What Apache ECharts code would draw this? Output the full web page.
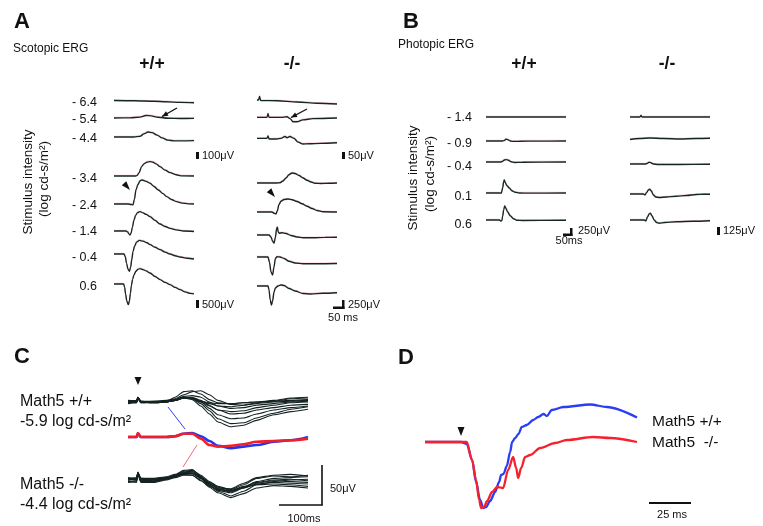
<!DOCTYPE html>
<html><head><meta charset="utf-8">
<script src="https://cdn.jsdelivr.net/npm/echarts@6/dist/echarts.min.js"></script>
<style>html,body{margin:0;padding:0;background:#fff}#c{width:763px;height:526px}</style>
</head><body><div id="c"></div>
<script>
// ================= DATA (time in ms, amplitude in µV) =================
const scotopicIntensities = ['- 6.4','- 5.4','- 4.4','- 3.4','- 2.4','- 1.4','- 0.4','0.6'];
const photopicIntensities = ['- 1.4','- 0.9','- 0.4','0.1','0.6'];

// Panel A, scotopic, Math5 +/+
const scotWT_m64 = [[0,24],[100,20],[200,12],[260,4],[330,-6],[400,-12]];
const scotWT_m54 = [[0,0],[80,2],[130,15],[160,40],[185,35],[220,12],[270,-4],[330,-8],[400,-6]];
const scotWT_m44 = [[0,0],[100,0],[130,10],[150,50],[170,80],[190,70],[215,30],[240,-15],[270,-50],[300,-62],[340,-62],[400,-58]];
const scotWT_m34 = [[0,0],[105,0],[115,20],[125,200],[138,597],[150,780],[165,890],[180,917],[195,880],[210,780],[230,597],[255,380],[280,213],[310,80],[340,10],[400,0]];
const scotWT_m24 = [[0,0],[70,0],[85,-30],[95,-60],[102,300],[110,900],[120,1250],[130,1480],[140,1536],[160,1450],[180,1325],[200,1120],[222,896],[245,660],[263,470],[290,270],[313,150],[340,60],[370,10],[400,0]];
const scotWT_m14 = [[0,0],[60,0],[68,-60],[75,-200],[80,-256],[86,-120],[92,250],[100,700],[108,1000],[118,1180],[130,1237],[145,1160],[160,1060],[180,917],[205,680],[230,448],[255,290],[280,171],[310,70],[347,0],[400,-30]];
const scotWT_m04 = [[0,0],[50,0],[56,-150],[63,-600],[70,-980],[77,-1109],[83,-850],[89,-350],[95,150],[103,500],[113,760],[127,870],[145,820],[165,720],[180,597],[205,430],[230,277],[255,120],[280,0],[305,-110],[330,-192],[365,-270],[400,-320]];
const scotWT_p06 = [[0,0],[48,0],[53,-200],[58,-650],[64,-1100],[72,-1323],[77,-1100],[82,-600],[87,-100],[93,300],[100,580],[110,820],[120,940],[130,981],[145,920],[160,840],[180,704],[205,480],[230,277],[255,100],[280,-43],[305,-220],[330,-363],[355,-500],[380,-600],[400,-630]];

// Panel A, scotopic, Math5 -/-
const scotKO_m64 = [[0,16],[8,16],[13,45],[18,12],[100,10],[200,0],[300,-10],[400,-16]];
const scotKO_m54 = [[0,5],[50,5],[55,35],[60,5],[120,5],[150,10],[165,-5],[180,-30],[200,-30],[230,-15],[280,-5],[400,0]];
const scotKO_m44 = [[0,5],[50,5],[55,25],[60,0],[100,0],[120,5],[140,20],[150,10],[165,20],[185,5],[205,-25],[230,-40],[260,-38],[320,-35],[400,-30]];
const scotKO_m34 = [[0,0],[100,0],[115,10],[130,80],[145,200],[160,330],[175,400],[190,380],[210,300],[230,200],[250,110],[270,40],[290,-10],[320,-20],[360,-10],[400,0]];
const scotKO_m24 = [[0,0],[75,0],[85,-50],[95,-80],[102,50],[110,300],[120,430],[135,500],[155,520],[175,490],[200,420],[225,330],[250,230],[275,140],[300,60],[330,10],[400,0]];
const scotKO_m14 = [[0,0],[60,0],[70,-80],[78,-250],[85,-330],[92,-100],[98,250],[102,310],[106,120],[112,70],[125,90],[145,60],[170,-20],[200,-80],[230,-110],[280,-110],[340,-95],[400,-90]];
const scotKO_m04 = [[0,0],[55,0],[62,-200],[70,-600],[78,-720],[85,-400],[92,-60],[100,10],[115,0],[135,-60],[160,-170],[190,-240],[230,-270],[300,-270],[400,-260]];
const scotKO_p06 = [[0,0],[55,0],[60,-150],[66,-550],[72,-760],[78,-600],[85,-250],[92,-80],[105,0],[120,40],[135,20],[160,-100],[190,-200],[230,-300],[270,-320],[330,-290],[400,-270]];

// Panel B, photopic, Math5 +/+
const photWT_m14 = [[0,0],[120,0],[240,0],[360,0],[480,0]];
const photWT_m09 = [[0,0],[100,0],[110,20],[120,70],[130,55],[145,0],[160,-15],[200,-10],[300,-5],[480,0]];
const photWT_m04 = [[0,0],[90,0],[100,30],[110,80],[120,95],[135,70],[150,10],[170,-20],[220,-10],[480,0]];
const photWT_p01 = [[0,0],[85,0],[92,-10],[100,200],[106,450],[110,520],[115,420],[125,300],[140,200],[155,90],[175,30],[200,0],[260,-5],[480,0]];
const photWT_p06 = [[0,0],[80,0],[88,-40],[95,-30],[100,150],[106,400],[112,560],[118,480],[130,320],[145,170],[165,50],[185,-10],[220,-20],[480,-10]];

// Panel B, photopic, Math5 -/-
const photKO_m14 = [[0,0],[60,0],[66,30],[72,0],[480,0]];
const photKO_m09 = [[0,-10],[60,10],[120,20],[200,10],[300,0],[400,10],[480,15]];
const photKO_m04 = [[0,0],[95,0],[105,15],[115,35],[125,25],[140,0],[170,-10],[300,-10],[480,-5]];
const photKO_p01 = [[0,0],[80,0],[90,-20],[100,30],[110,80],[118,95],[128,60],[140,-20],[155,-60],[175,-70],[220,-60],[280,-45],[340,-30],[400,-10],[440,-5],[480,-5]];
const photKO_p06 = [[0,0],[85,0],[95,-20],[105,60],[115,120],[122,135],[132,80],[145,0],[160,-50],[175,-65],[210,-50],[280,-35],[380,-25],[480,-15]];

// Panel C, individual traces (µV) at shared times (ms)
const cTimeMs = [0,20,23,30,60,90,110,130,150,170,190,210,240,270,300,340,380,420];
const cWT1  = [2,1,6,1,0,1,6,13,14,10,3,-1,-2,-1,0,1,2,3];
const cWT2  = [1,2,6,0,1,2,4,9,13,14,9,2,-3,-4,-2,0,1,2];
const cWT3  = [0,-1,5,0,-1,0,3,7,8,6,0,-5,-8,-7,-4,-2,0,1];
const cWT4  = [-1,0,5,-1,0,1,2,6,6,2,-4,-10,-15,-14,-10,-7,-4,-3];
const cWT5  = [1,0,6,0,0,0,2,5,5,0,-8,-16,-21,-20,-15,-10,-7,-5];
const cWT6  = [0,1,5,1,1,1,3,6,4,-2,-11,-21,-27,-26,-20,-14,-9,-6];
const cWT7  = [-2,-1,4,-1,-1,0,2,5,3,-5,-15,-25,-31,-29,-23,-16,-12,-9];
const cWT8  = [1,0,5,0,0,1,3,6,5,1,-2,-5,-6,-4,-1,1,4,5];
const cWT9  = [0,1,6,1,0,0,2,5,4,0,-5,-10,-12,-11,-7,-4,-1,0];
const cWT10 = [-1,0,5,0,-1,0,2,5,5,1,-1,-2,-2,-1,0,2,5,6];
const cMeanKO = [0,0,5,0,0,0,1,4,4,-2,-10,-12,-11,-9,-6,-5,-4,-2];   // red
const cMeanWT = [0,0,4,0,0,0,1,4,5,1,-5,-11,-14,-12,-10,-6,-4,0];    // blue
const cKO1 = [2,3,9,2,1,3,6,11,12,6,-2,-8,-12,-6,2,5,4,6];
const cKO2 = [-2,-1,8,-1,-2,1,4,9,10,4,-4,-11,-15,-9,-2,2,3,4];
const cKO3 = [3,1,10,2,2,4,7,12,13,5,-6,-14,-20,-14,-6,-2,0,1];
const cKO4 = [0,2,9,0,-1,2,5,8,8,2,-7,-13,-16,-10,-4,-1,-2,-3];
const cKO5 = [-3,-2,7,-3,-3,0,3,6,6,0,-9,-16,-22,-17,-10,-7,-8,-10];
const cKO6 = [1,0,9,1,0,2,5,9,9,3,-5,-10,-11,-4,3,6,7,5];
const cKO7 = [-1,-3,8,-2,-2,1,4,7,6,-1,-8,-12,-13,-9,-6,-5,-6,-8];
const cKO8 = [2,0,9,1,1,3,6,10,11,4,-3,-9,-13,-8,-3,0,1,-1];
const cKO9 = [0,1,9,-1,0,2,4,8,8,2,-5,-11,-14,-10,-5,-3,-4,-5];

// Panel D, averaged responses (ms, µV)
const dWT = [[0,0],[21.6,0],[25,-4],[28.2,-36],[30.6,-80],[33,-116],[35,-132],[36.6,-130],[39,-118],[42,-100],[44.4,-80],[45.6,-66],[47,-64],[49,-48],[51,-20],[52.2,0],[54,8],[56,16],[58,30],[61,34],[64.8,44],[67.8,50],[71,56],[73,52],[76,64],[83,70],[99,75],[109,70],[127,49]];
const dKO = [[0,0],[25,0],[28.2,-36],[30.6,-76],[32.4,-116],[33.6,-132],[35.4,-130],[37.2,-118],[40.2,-100],[43.2,-90],[46.8,-92],[49.8,-56],[52.8,-30],[54.6,-52],[55.8,-72],[57.6,-52],[60,-30],[63,-26],[69,-12],[78,-2],[85,4],[100.8,10],[111,8],[127,0]];

// ================= LAYOUT =================
const FONT = '"Liberation Sans", Arial, Helvetica, sans-serif';
const TRACE = '#142626';
const grids = [], xAxes = [], yAxes = [], series = [];

function addGrid(left, width, tMax, baseline, uvPerPx, half) {
  const gi = grids.length;
  grids.push({left: left, top: baseline - half, width: width, height: 2 * half, containLabel: false});
  xAxes.push({type: 'value', gridIndex: gi, min: 0, max: tMax, show: false});
  yAxes.push({type: 'value', gridIndex: gi, min: -half * uvPerPx, max: half * uvPerPx, show: false});
  return gi;
}
function addLine(gi, data, color, width, smooth, z) {
  series.push({type: 'line', xAxisIndex: gi, yAxisIndex: gi, data: data, symbol: 'none', showSymbol: false,
    smooth: smooth, smoothMonotone: 'x', clip: false, silent: true, z: z || 2,
    lineStyle: {color: color, width: width}});
}
function addErg(left, width, tMax, baseline, uvPerPx, data) {
  const gi = addGrid(left, width, tMax, baseline, uvPerPx, 30);
  series.push({type: 'line', xAxisIndex: gi, yAxisIndex: gi, data: data, symbol: 'none', showSymbol: false,
    smooth: 0.3, smoothMonotone: 'x', clip: false, silent: true,
    lineStyle: {color: TRACE, width: 1.35, shadowColor: 'rgba(235,90,110,0.3)', shadowOffsetY: -0.7, shadowBlur: 0}});
}

const scotWT = [scotWT_m64, scotWT_m54, scotWT_m44, scotWT_m34, scotWT_m24, scotWT_m14, scotWT_m04, scotWT_p06];
const scotKO = [scotKO_m64, scotKO_m54, scotKO_m44, scotKO_m34, scotKO_m24, scotKO_m14, scotKO_m04, scotKO_p06];
const photWT = [photWT_m14, photWT_m09, photWT_m04, photWT_p01, photWT_p06];
const photKO = [photKO_m14, photKO_m09, photKO_m04, photKO_p01, photKO_p06];

const aWTBase = [102,118,137,176,204,231,254,284];
const aKOBase = [102,118,139,183,212,235,257,286];
const aWTScale = [16,16,16,64,64,64,64,64];
const aKOScale = [8,8,8,40,40,40,40,40];
scotWT.forEach((d, i) => addErg(114, 80, 400, aWTBase[i], aWTScale[i], d));
scotKO.forEach((d, i) => addErg(257, 80, 400, aKOBase[i], aKOScale[i], d));

const bWTBase = [117,141,162,193,220];
const bKOBase = [117,139,164,194,220];
photWT.forEach((d, i) => addErg(486, 80, 480, bWTBase[i], 40, d));
photKO.forEach((d, i) => addErg(630, 80, 480, bKOBase[i], 20, d));

// Panel C
const pair = arr => cTimeMs.map((t, i) => [t, arr[i]]);
const gWT = addGrid(128, 180, 420, 402, 1.25, 40);
[cWT1,cWT2,cWT3,cWT4,cWT5,cWT6,cWT7,cWT8,cWT9,cWT10].forEach(a => addLine(gWT, pair(a), '#142222', 1.1, 0.2));
const gMean = addGrid(128, 180, 420, 437, 1.25, 40);
addLine(gMean, pair(cMeanWT), '#2236f0', 2.6, 0.35, 3);
addLine(gMean, pair(cMeanKO), '#f0202a', 2.6, 0.35, 4);
const gKO = addGrid(128, 180, 420, 480, 1.25, 40);
[cKO1,cKO2,cKO3,cKO4,cKO5,cKO6,cKO7,cKO8,cKO9].forEach(a => addLine(gKO, pair(a), '#142222', 1.1, 0.2));

// Panel D
const gD = addGrid(425, 212, 127, 442, 2, 70);
addLine(gD, dWT, '#2a3cf5', 2.3, 0.3, 3);
addLine(gD, dKO, '#f5222d', 2.3, 0.3, 4);

// ================= ANNOTATIONS =================
const G = [];
function txt(x, y, s, size, opt) {
  opt = opt || {};
  G.push({type: 'text', x: x, y: y, rotation: opt.rot || 0, z: 10, silent: true,
    style: {text: s, fill: '#111', font: (opt.bold ? 'bold ' : '') + size + 'px ' + FONT,
      textAlign: opt.align || 'left', align: opt.align || 'left',
      textVerticalAlign: 'middle', verticalAlign: 'middle'}});
}
function rect(x, y, w, h) { G.push({type: 'rect', shape: {x: x, y: y, width: w, height: h}, style: {fill: '#111'}, silent: true, z: 10}); }
function seg(x1, y1, x2, y2, w, c) { G.push({type: 'line', shape: {x1: x1, y1: y1, x2: x2, y2: y2}, style: {stroke: c || '#111', lineWidth: w}, silent: true, z: 10}); }
function head(tx, ty, ang, len, hw) {
  const dx = Math.cos(ang), dy = Math.sin(ang);
  const bx = tx - dx * len, by = ty - dy * len;
  G.push({type: 'polygon', shape: {points: [[tx, ty], [bx - dy * hw, by + dx * hw], [bx + dy * hw, by - dx * hw]]}, style: {fill: '#111'}, silent: true, z: 10});
}
function arrow(x1, y1, x2, y2) {
  seg(x1, y1, x2, y2, 1.4);
  head(x2, y2, Math.atan2(y2 - y1, x2 - x1), 6, 2.6);
}

// Panel A
txt(14, 22, 'A', 22, {bold: true});
txt(13, 49, 'Scotopic ERG', 12);
txt(152, 64, '+/+', 17.5, {bold: true, align: 'center'});
txt(292, 64, '-/-', 17.5, {bold: true, align: 'center'});
const aLabelY = [103,120,139,179,206,232,258,287];
scotopicIntensities.forEach((s, i) => txt(97, aLabelY[i], s, 12.5, {align: 'right'}));
txt(28, 182, 'Stimulus intensity', 13.5, {align: 'center', rot: Math.PI / 2});
txt(44, 179, '(log cd-s/m\u00b2)', 13.5, {align: 'center', rot: Math.PI / 2});
arrow(177, 108, 162, 116.5);
arrow(307, 109, 291, 117.5);
head(130, 190, Math.atan2(25, 22), 9, 3);
head(275, 197, Math.atan2(25, 22), 9, 3);
rect(196, 152, 3, 7); txt(202, 156, '100\u03bcV', 11);
rect(342, 152, 3, 7); txt(348, 156, '50\u03bcV', 11);
rect(196, 300, 3, 8); txt(202, 305, '500\u03bcV', 11);
rect(342, 300, 2.5, 9); rect(333, 306.5, 11.5, 2.5); txt(348, 305, '250\u03bcV', 11);
txt(343, 318, '50 ms', 11, {align: 'center'});

// Panel B
txt(403, 22, 'B', 22, {bold: true});
txt(398, 45, 'Photopic ERG', 12);
txt(524, 64, '+/+', 17.5, {bold: true, align: 'center'});
txt(667, 64, '-/-', 17.5, {bold: true, align: 'center'});
const bLabelY = [118,144,167,197,225];
photopicIntensities.forEach((s, i) => txt(472, bLabelY[i], s, 12.5, {align: 'right'}));
txt(413, 178, 'Stimulus intensity', 13.5, {align: 'center', rot: Math.PI / 2});
txt(430, 174, '(log cd-s/m\u00b2)', 13.5, {align: 'center', rot: Math.PI / 2});
rect(570, 228, 2.5, 8); rect(563, 233.5, 9.5, 2.5); txt(578, 231, '250\u03bcV', 11);
txt(569, 241, '50ms', 11, {align: 'center'});
rect(717, 227, 3, 8); txt(723, 231, '125\u03bcV', 11);

// Panel C
txt(14, 357, 'C', 22, {bold: true});
txt(20, 402, 'Math5 +/+', 16);
txt(20, 422, '-5.9 log cd-s/m\u00b2', 16);
txt(20, 485, 'Math5 -/-', 16);
txt(20, 505, '-4.4 log cd-s/m\u00b2', 16);
head(138, 385, Math.PI / 2, 8, 3.5);
seg(168, 407, 185, 429, 1, '#3344ee');
seg(197, 445, 183, 467, 1, '#f06a7a');
seg(322, 465, 322, 505.5, 1.6);
seg(279, 505, 322.5, 505, 1.6);
txt(330, 489, '50\u03bcV', 11);
txt(304, 519, '100ms', 11, {align: 'center'});

// Panel D
txt(398, 358, 'D', 22, {bold: true});
head(461, 436, Math.PI / 2, 9, 3.5);
txt(652, 422, 'Math5 +/+', 15.5);
txt(652, 443, 'Math5  -/-', 15.5);
seg(649, 503, 691, 503, 2);
txt(672, 515, '25 ms', 11, {align: 'center'});

const chart = echarts.init(document.getElementById('c'), null, {renderer: 'canvas'});
chart.setOption({
  animation: false,
  backgroundColor: '#ffffff',
  grid: grids, xAxis: xAxes, yAxis: yAxes, series: series,
  graphic: G
});
</script></body></html>
